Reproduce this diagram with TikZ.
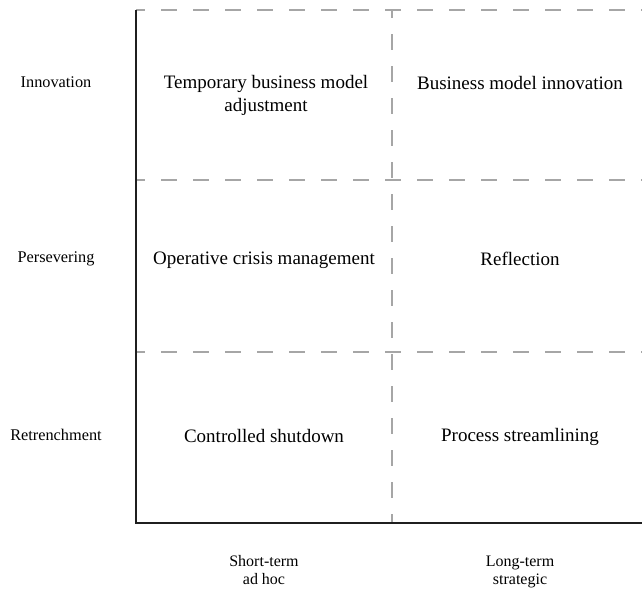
\documentclass[tikz,border=0pt]{standalone}
\usepackage{fontspec}
\setmainfont{Liberation Serif}
\begin{document}
\begin{tikzpicture}[x=1pt,y=-1pt,
  gridline/.style={draw=black!35, line width=1.3pt, dash pattern=on 16pt off 16pt, dash phase=7pt},
  axisline/.style={draw=black!88, line width=1.6pt},
  rowlabel/.style={font=\fontsize{16.3}{19}\selectfont, align=center, inner sep=0pt},
  cell/.style={font=\fontsize{19}{23}\selectfont, align=center, inner sep=0pt},
  collabel/.style={font=\fontsize{16}{18.5}\selectfont, align=center, inner sep=0pt}]
\useasboundingbox (0,0) rectangle (642,589);
% grid
\draw[gridline] (136,10) -- (642,10);
\draw[gridline] (136,180) -- (642,180);
\draw[gridline] (136,352) -- (642,352);
\draw[gridline, dash phase=8pt] (392,10) -- (392,523);
% axes
\coordinate (top) at (136,10);
\coordinate (origin) at (136,523);
\coordinate (right) at (642,523);
\draw[axisline] (top) -- (origin) -- (right);
% row labels
\node[rowlabel] (r1) at (56,82) {Innovation};
\node[rowlabel] (r2) at (56,259) {Persevering};
\node[rowlabel] (r3) at (56,435) {Retrenchment};
% cells
\node[cell] (c11) at (266,95) {Temporary business model\\adjustment};
\node[cell] (c12) at (520,83) {Business model innovation};
\node[cell] (c21) at (264,260) {Operative crisis management};
\node[cell] (c22) at (520,259) {Reflection};
\node[cell] (c31) at (264,436) {Controlled shutdown};
\node[cell] (c32) at (520,437) {Process streamlining};
% column labels
\node[collabel] (k1) at (264,570) {Short-term\\ad hoc};
\node[collabel] (k2) at (520,572) {Long-term\\strategic};
\end{tikzpicture}
\end{document}
